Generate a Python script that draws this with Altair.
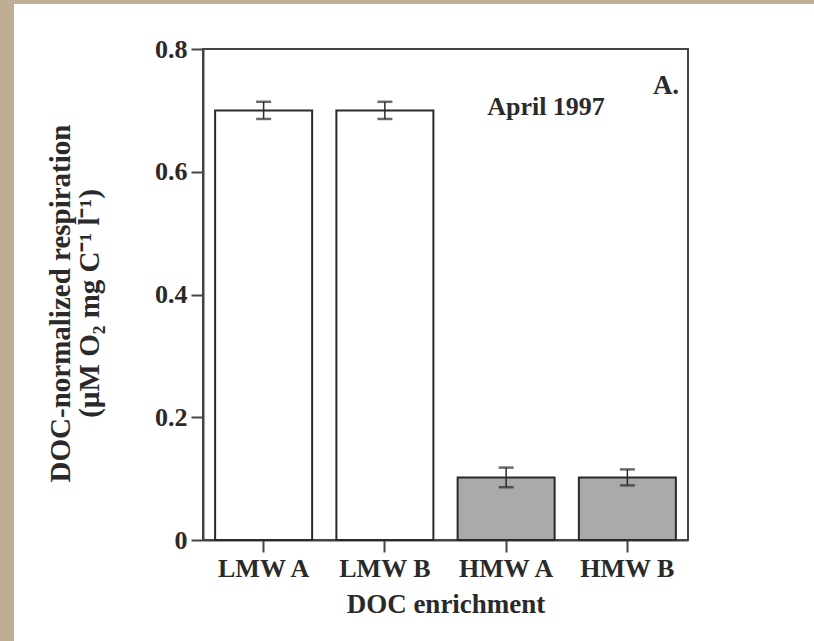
import altair as alt
import pandas as pd

categories = ["LMW A", "LMW B", "HMW A", "HMW B"]
groups = ["LMW", "LMW", "HMW", "HMW"]
values = [0.700, 0.700, 0.102, 0.102]
errors = [0.014, 0.014, 0.016, 0.013]
y_ticks = [0, 0.2, 0.4, 0.6, 0.8]
y_title = ["DOC-normalized respiration", "(\u00b5M O\u2082 mg C\u207b\u00b9 l\u207b\u00b9)"]
x_title = "DOC enrichment"
annotation_month = "April 1997"
annotation_panel = "A."

FONT = "Liberation Serif"
INK = "#2a2a2a"
TAN = "#bdae94"

df = pd.DataFrame({
    "cat": categories,
    "group": groups,
    "val": values,
    "err": errors,
})
df["lo"] = df["val"] - df["err"]
df["hi"] = df["val"] + df["err"]

base = alt.Chart(df)

xenc = alt.X(
    "cat:N",
    sort=categories,
    scale=alt.Scale(paddingInner=0.2, paddingOuter=0.1),
    axis=alt.Axis(
        title=x_title,
        labelAngle=0,
        tickSize=12,
        labelPadding=3,
        titlePadding=10,
        labelFontSize=26,
        titleFontSize=27,
    ),
)

yscale = alt.Scale(domain=[0, 0.8], nice=False)

bars = base.mark_bar(stroke=INK, strokeWidth=2).encode(
    x=xenc,
    y=alt.Y(
        "val:Q",
        scale=yscale,
        axis=alt.Axis(
            title=y_title,
            values=y_ticks,
            tickSize=12,
            labelPadding=4,
            titlePadding=50,
            titleY=254,
            labelFontSize=26,
            titleFontSize=29,
            titleLineHeight=29,
            labelExpr="datum.value == 0 ? '0' : format(datum.value, '.1f')",
        ),
    ),
    color=alt.Color(
        "group:N",
        scale=alt.Scale(domain=["LMW", "HMW"], range=["#ffffff", "#aaaaaa"]),
        legend=None,
    ),
)

stems = base.mark_rule(color=INK, strokeWidth=1.5).encode(
    x=alt.X("cat:N", sort=categories),
    y=alt.Y("lo:Q", scale=yscale),
    y2="hi:Q",
)

cap_lo = base.mark_tick(color=INK, size=15, thickness=2.5).encode(
    x=alt.X("cat:N", sort=categories),
    y=alt.Y("lo:Q", scale=yscale),
)
cap_hi = base.mark_tick(color=INK, size=15, thickness=2.5).encode(
    x=alt.X("cat:N", sort=categories),
    y=alt.Y("hi:Q", scale=yscale),
)

one = alt.Chart(pd.DataFrame({"k": [0]}))

month_text = one.mark_text(
    font=FONT, fontSize=26, fontWeight="bold", color=INK, align="center", baseline="middle"
).encode(x=alt.value(343), y=alt.value(58), text=alt.value(annotation_month))

panel_text = one.mark_text(
    font=FONT, fontSize=27, fontWeight="bold", color=INK, align="center", baseline="middle"
).encode(x=alt.value(463), y=alt.value(37), text=alt.value(annotation_panel))

# decorative tan page edges (left and top strips)
strip_left = one.mark_rect(color=TAN).encode(
    x=alt.value(-203), x2=alt.value(-189), y=alt.value(-49), y2=alt.value(592)
)
strip_top = one.mark_rect(color=TAN).encode(
    x=alt.value(-203), x2=alt.value(611), y=alt.value(-49), y2=alt.value(-45)
)

chart = (
    alt.layer(strip_left, strip_top, bars, stems, cap_lo, cap_hi, month_text, panel_text)
    .properties(
        width=485,
        height=491,
        autosize="none",
        padding={"left": 203, "top": 49, "right": 126, "bottom": 101},
        background="white",
    )
    .configure_view(stroke="#444444", strokeWidth=2)
    .configure_axis(
        domainColor="#444444",
        domainWidth=2,
        tickColor="#444444",
        tickWidth=2,
        grid=False,
        labelFont=FONT,
        labelFontWeight="bold",
        labelColor=INK,
        titleFont=FONT,
        titleFontWeight="bold",
        titleColor=INK,
    )
)

chart.save("out.html", embed_options={"renderer": "svg", "actions": False})
